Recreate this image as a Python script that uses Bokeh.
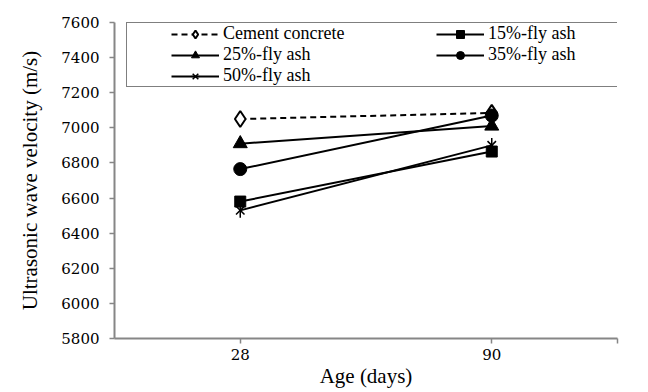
import math
from bokeh.plotting import figure
from bokeh.models import FixedTicker, Legend, LegendItem
from bokeh.embed import file_html
from bokeh.resources import INLINE

ages = ["28", "90"]
cement = [7050, 7085]
fly15 = [6580, 6865]
fly25 = [6910, 7010]
fly35 = [6765, 7070]
fly50 = [6530, 6900]
y_ticks = [5800, 6000, 6200, 6400, 6600, 6800, 7000, 7200, 7400, 7600]

xs = list(range(len(ages)))
FONT = "'Times New Roman', 'Liberation Serif', serif"
TICK_FONT = "DejaVu Serif"

p = figure(width=648, height=392, output_backend="svg", toolbar_location=None,
           x_range=(-0.5, len(ages) - 0.5), y_range=(5800, 7600),
           min_border_left=114, min_border_right=31, min_border_top=22, min_border_bottom=54)
p.outline_line_color = None
p.xgrid.visible = False
p.ygrid.visible = False

r_c_l = p.line(xs, cement, line_color="black", line_width=2, line_dash="6 4")
r_c_m = p.scatter(xs, cement, marker="diamond", size=16, line_color="black", line_width=2, fill_color="white")
r_15_l = p.line(xs, fly15, line_color="black", line_width=2)
r_15_m = p.scatter(xs, fly15, marker="square", size=11, line_color="black", fill_color="black")
r_25_l = p.line(xs, fly25, line_color="black", line_width=2)
r_25_m = p.scatter(xs, fly25, marker="triangle", size=14, line_color="black", fill_color="black")
r_35_l = p.line(xs, fly35, line_color="black", line_width=2)
r_35_m = p.scatter(xs, fly35, marker="circle", size=13, line_color="black", fill_color="black")
r_50_l = p.line(xs, fly50, line_color="black", line_width=2)
r_50_x = p.scatter(xs, fly50, marker="x", size=12, line_color="black", line_width=1.5)
r_50_v = p.scatter(xs, fly50, marker="dash", size=15, angle=math.pi / 2, line_color="black", line_width=1.5)

xa = p.xaxis[0]
xa.ticker = FixedTicker(ticks=xs + [len(ages) - 0.5])
overrides = {i: a for i, a in enumerate(ages)}
overrides[len(ages) - 0.5] = ""
xa.major_label_overrides = overrides
xa.axis_label = "Age (days)"

ya = p.yaxis[0]
ya.ticker = FixedTicker(ticks=y_ticks)
ya.axis_label = "Ultrasonic wave velocity (m/s)"

for ax in (xa, ya):
    ax.axis_line_color = "#868686"
    ax.axis_line_width = 2
    ax.major_tick_line_color = "#868686"
    ax.major_tick_line_width = 1.5
    ax.major_tick_in = 0
    ax.major_tick_out = 5
    ax.minor_tick_line_color = None
    ax.major_label_text_font = TICK_FONT
    ax.major_label_text_font_size = "15px"
    ax.major_label_text_font_style = "normal"
    ax.major_label_text_color = "black"
    ax.axis_label_text_font = FONT
    ax.axis_label_text_font_size = "21px"
    ax.axis_label_text_font_style = "normal"
    ax.axis_label_text_color = "black"

ya.major_label_standoff = 10
ya.axis_label_standoff = 16
xa.major_label_standoff = 5
xa.axis_label_standoff = 1

# column-major fill: left column then right column
legend = Legend(items=[
    LegendItem(label="Cement concrete", renderers=[r_c_l, r_c_m]),
    LegendItem(label="25%-fly ash", renderers=[r_25_l, r_25_m]),
    LegendItem(label="50%-fly ash", renderers=[r_50_l, r_50_x, r_50_v]),
    LegendItem(label="15%-fly ash", renderers=[r_15_l, r_15_m]),
    LegendItem(label="35%-fly ash", renderers=[r_35_l, r_35_m]),
], ncols=2, location=(12, 251))
legend.title = " "
legend.title_location = "left"
legend.title_text_font_size = "12px"
legend.title_standoff = 30
legend.padding = 0
legend.spacing = 0
legend.margin = 0
legend.glyph_width = 48
legend.glyph_height = 20
legend.label_height = 20
legend.label_width = 213
legend.label_standoff = 4
legend.label_text_font = FONT
legend.label_text_font_size = "18px"
legend.label_text_color = "black"
legend.border_line_color = "black"
legend.border_line_width = 1.5
legend.background_fill_color = "white"
legend.background_fill_alpha = 1
p.add_layout(legend, "center")

open("out.html", "w").write(file_html(p, INLINE))
